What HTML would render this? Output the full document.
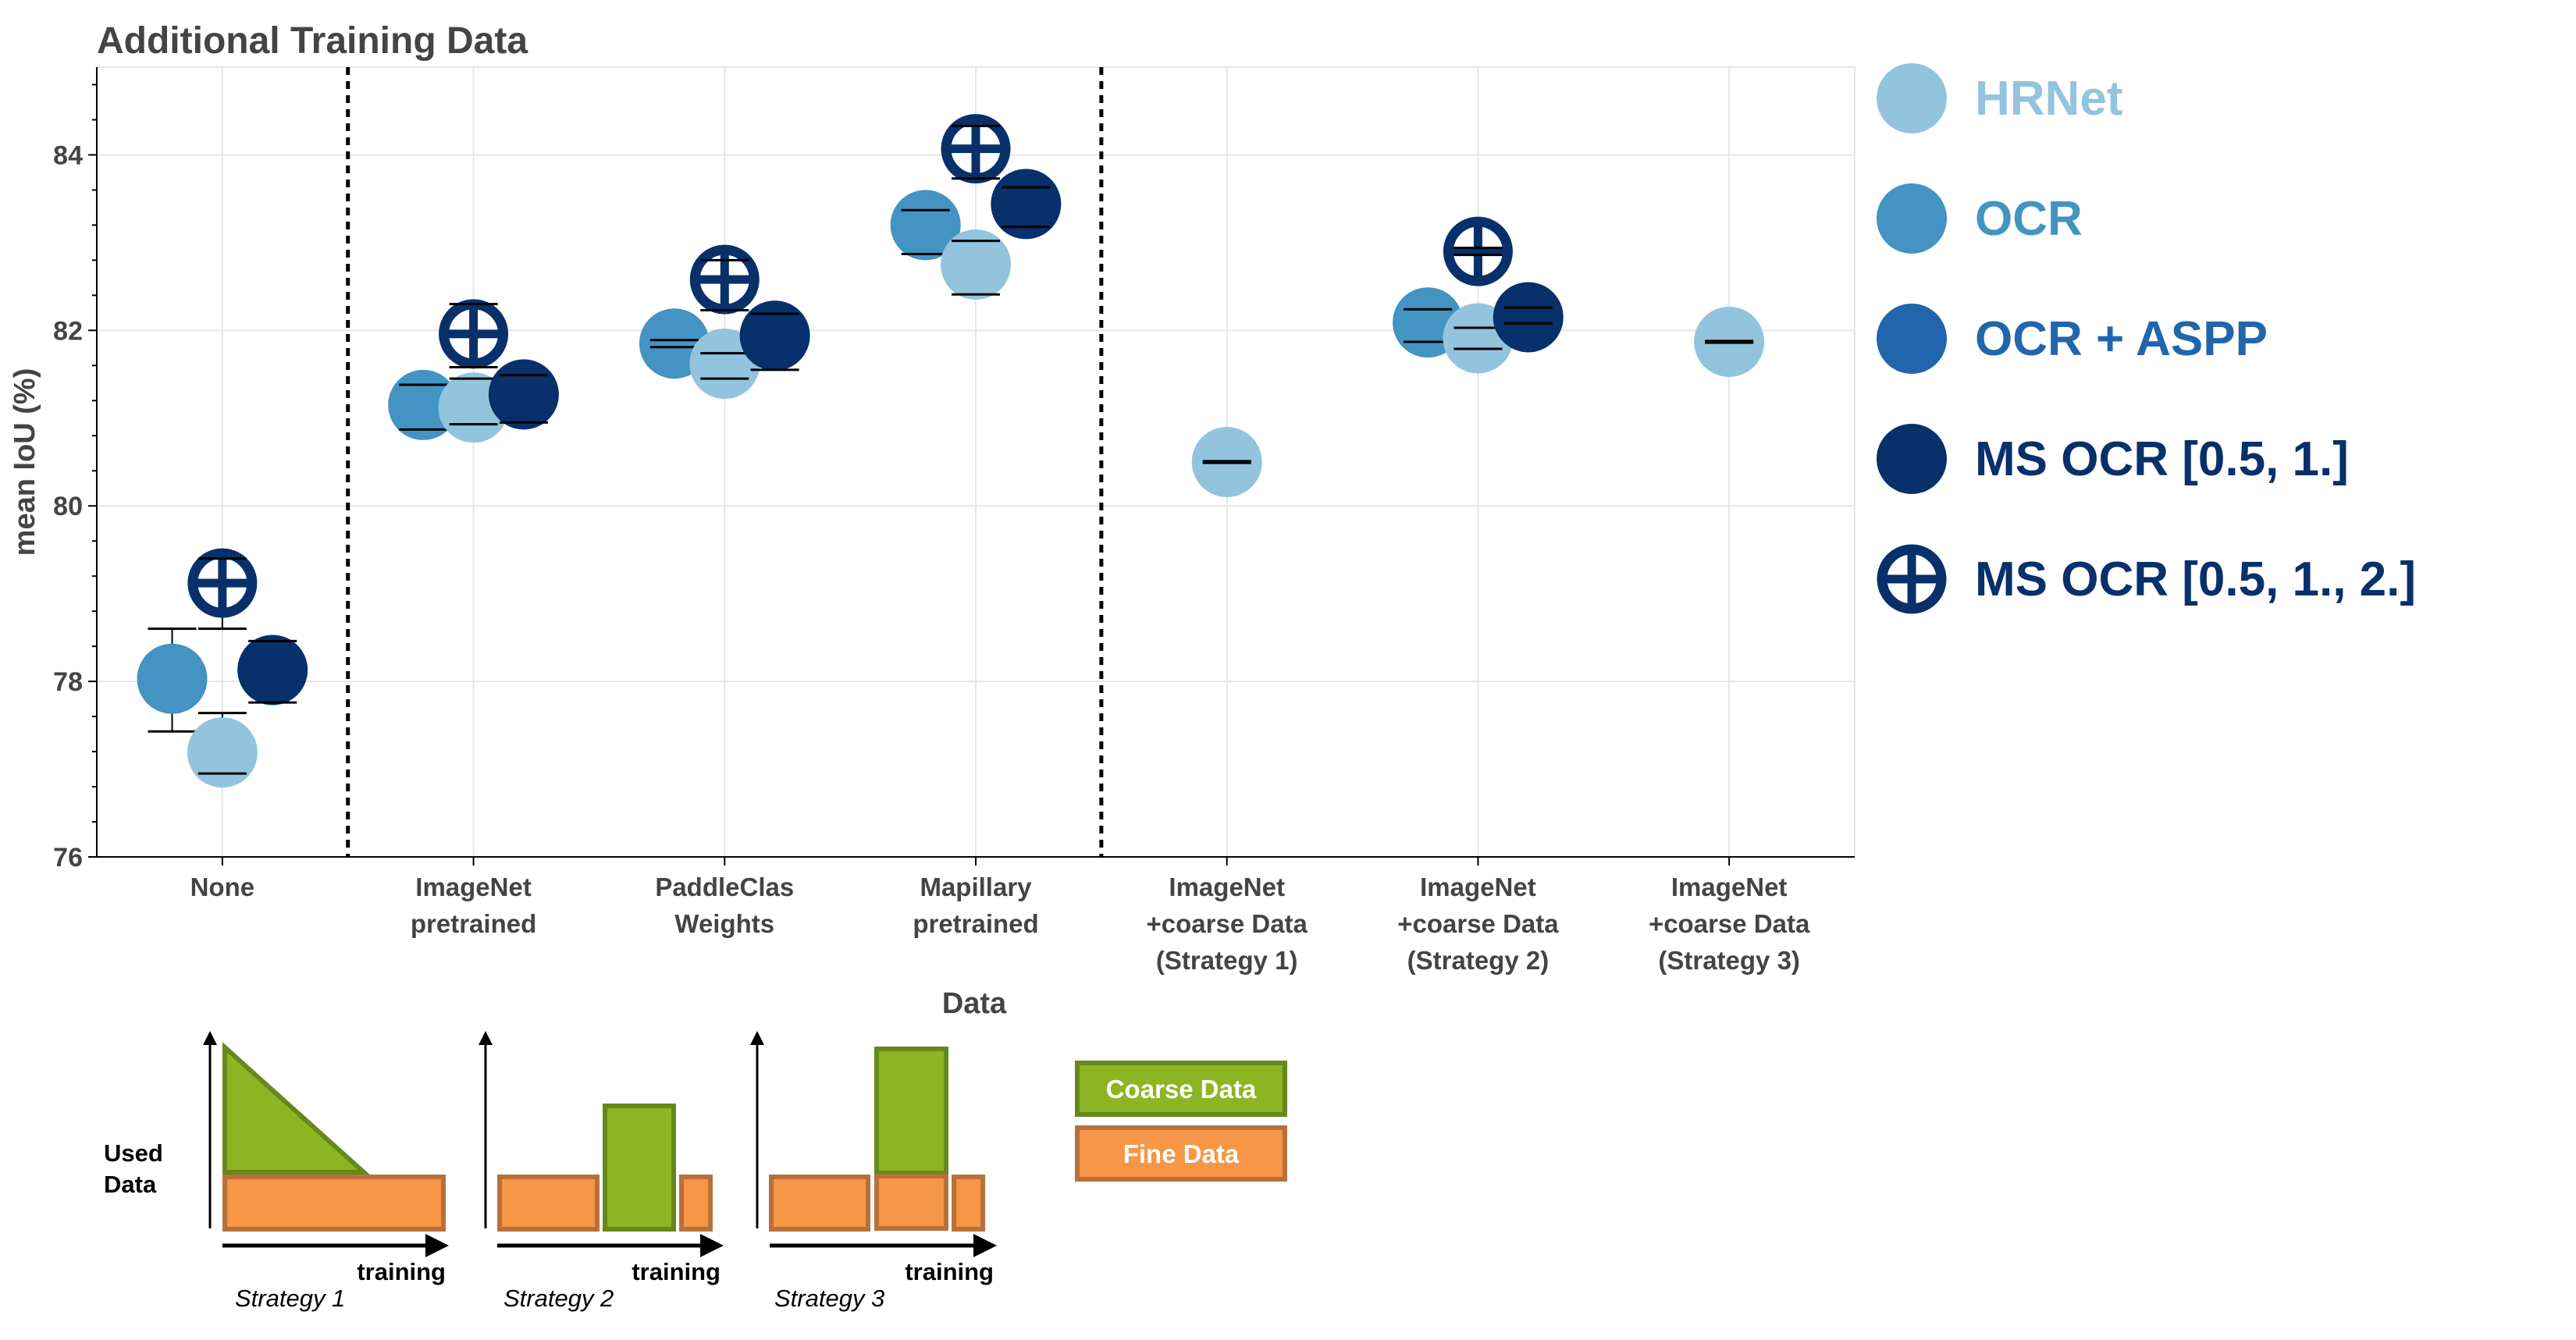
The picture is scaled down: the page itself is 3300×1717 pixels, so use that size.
<!DOCTYPE html>
<html><head><meta charset="utf-8"><style>
html,body{margin:0;padding:0;background:#fff}
svg{display:block}
text{font-family:"Liberation Sans",sans-serif}
</style></head><body>
<svg id="chart" width="3300" height="1717" viewBox="0 0 3300 1717" xmlns="http://www.w3.org/2000/svg">
<text x="124" y="68" font-size="48" font-weight="bold" fill="#444">Additional Training Data</text>
<g id="grid"></g><g id="axes"></g><g id="marks"></g>
<text transform="translate(44,592) rotate(-90)" text-anchor="middle" font-size="38" font-weight="bold" fill="#444">mean IoU (%)</text>
<text x="1262" y="1312" text-anchor="middle" font-size="38" font-weight="bold" fill="#444" transform="translate(-14,-14)">Data</text>
<g id="legend"></g>
<g id="diagram">
  <defs><marker id="ah" markerWidth="6" markerHeight="6" refX="3" refY="3" orient="auto"><path d="M0,0 L6,3 L0,6 z" fill="#000"/></marker></defs>
  <text x="133" y="1488" font-size="31" font-weight="bold">Used</text>
  <text x="133" y="1528" font-size="31" font-weight="bold">Data</text>
  <line x1="269" y1="1574" x2="269" y2="1330" stroke="#000" stroke-width="3" marker-end="url(#ah)"/>
  <polygon points="288,1342 288,1502 466,1502" fill="#8db523" stroke="#66881c" stroke-width="6"/>
  <rect x="288" y="1508" width="280" height="67" fill="#f79646" stroke="#b8703a" stroke-width="6"/>
  <line x1="285" y1="1596" x2="560" y2="1596" stroke="#000" stroke-width="5" marker-end="url(#ah)"/>
  <text x="571" y="1640" text-anchor="end" font-size="31" font-weight="bold">training</text>
  <text x="301" y="1674" font-size="31" font-style="italic">Strategy 1</text>
  <line x1="622" y1="1574" x2="622" y2="1330" stroke="#000" stroke-width="3" marker-end="url(#ah)"/>
  <rect x="640" y="1508" width="125" height="67" fill="#f79646" stroke="#b8703a" stroke-width="6"/>
  <rect x="775" y="1417" width="88" height="158" fill="#8db523" stroke="#66881c" stroke-width="6"/>
  <rect x="873" y="1508" width="37" height="67" fill="#f79646" stroke="#b8703a" stroke-width="6"/>
  <line x1="637" y1="1596" x2="912" y2="1596" stroke="#000" stroke-width="5" marker-end="url(#ah)"/>
  <text x="923" y="1640" text-anchor="end" font-size="31" font-weight="bold">training</text>
  <text x="645" y="1674" font-size="31" font-style="italic">Strategy 2</text>
  <line x1="970" y1="1574" x2="970" y2="1330" stroke="#000" stroke-width="3" marker-end="url(#ah)"/>
  <rect x="988" y="1508" width="124" height="67" fill="#f79646" stroke="#b8703a" stroke-width="6"/>
  <rect x="1123" y="1344" width="89" height="159" fill="#8db523" stroke="#66881c" stroke-width="6"/>
  <rect x="1123" y="1507" width="89" height="67" fill="#f79646" stroke="#b8703a" stroke-width="6"/>
  <rect x="1222" y="1508" width="37" height="67" fill="#f79646" stroke="#b8703a" stroke-width="6"/>
  <line x1="986" y1="1596" x2="1262" y2="1596" stroke="#000" stroke-width="5" marker-end="url(#ah)"/>
  <text x="1273" y="1640" text-anchor="end" font-size="31" font-weight="bold">training</text>
  <text x="992" y="1674" font-size="31" font-style="italic">Strategy 3</text>
  <rect x="1380" y="1362" width="266" height="66" fill="#8db523" stroke="#66881c" stroke-width="6"/>
  <text x="1513" y="1407" text-anchor="middle" font-size="33" font-weight="bold" fill="#fff">Coarse Data</text>
  <rect x="1380" y="1445" width="266" height="66" fill="#f79646" stroke="#b8703a" stroke-width="6"/>
  <text x="1513" y="1490" text-anchor="middle" font-size="33" font-weight="bold" fill="#fff">Fine Data</text>
</g>
</svg>
<script>
const categories = [["None"],["ImageNet","pretrained"],["PaddleClas","Weights"],["Mapillary","pretrained"],["ImageNet","+coarse Data","(Strategy 1)"],["ImageNet","+coarse Data","(Strategy 2)"],["ImageNet","+coarse Data","(Strategy 3)"]];
const yTicks = [76,78,80,82,84];
const seriesNames = ["HRNet","OCR","OCR + ASPP","MS OCR [0.5, 1.]","MS OCR [0.5, 1., 2.]"];
const seriesColors = ["#93c4de","#4393c3","#2166ac","#08306b","#08306b"];
const ocrMean = [78.03,81.15,81.85,83.20,null,82.09,null];
const ocrHi   = [78.60,81.38,81.89,83.37,null,82.24,null];
const ocrLo   = [77.43,80.87,81.81,82.87,null,81.87,null];
const hrMean  = [77.19,81.12,81.62,82.75,80.50,81.91,81.87];
const hrHi    = [77.64,81.45,81.74,83.02,80.51,82.03,81.88];
const hrLo    = [76.95,80.93,81.45,82.41,80.49,81.79,81.86];
const msMean  = [78.13,81.27,81.94,83.44,null,82.15,null];
const msHi    = [78.46,81.49,82.19,83.63,null,82.26,null];
const msLo    = [77.76,80.95,81.55,83.18,null,82.08,null];
const ms3Mean = [79.12,81.96,82.58,84.07,null,82.90,null];
const ms3Hi   = [79.40,82.30,82.80,84.33,null,82.94,null];
const ms3Lo   = [78.60,81.58,82.23,83.73,null,82.86,null];

const NS="http://www.w3.org/2000/svg";
const L=124,R=2376,T=86,B=1098,yMin=76,yMax=85;
const xs=i=>L+(i+0.5)*(R-L)/categories.length;
const ys=v=>B-(v-yMin)/(yMax-yMin)*(B-T);
function mk(tag,attrs,parent){const e=document.createElementNS(NS,tag);for(const k in attrs)e.setAttribute(k,attrs[k]);parent.appendChild(e);return e;}
const grid=document.getElementById('grid'),axes=document.getElementById('axes'),marks=document.getElementById('marks'),legend=document.getElementById('legend');
yTicks.forEach(v=>{const l=mk('line',{x1:L,x2:R,y1:ys(v),y2:ys(v),stroke:'#e6e6e6','stroke-width':2},grid);

});
categories.forEach((c,i)=>{const l=mk('line',{x1:xs(i),x2:xs(i),y1:T,y2:B,stroke:'#e6e6e6','stroke-width':2},grid);

});
const frame=mk('path',{d:`M${L},${T} H${R} V${B}`,fill:'none',stroke:'#e6e6e6','stroke-width':2},grid);


[0.5,3.5].forEach(p=>{const l=mk('line',{x1:xs(p),x2:xs(p),y1:T,y2:B,stroke:'#000','stroke-width':5,'stroke-dasharray':'10,8'},grid);

});
mk('line',{x1:L,x2:L,y1:T,y2:B+1,stroke:'#000','stroke-width':2},axes);
mk('line',{x1:L,x2:R,y1:B,y2:B,stroke:'#000','stroke-width':2},axes);
for(let v=yMin;v<=yMax+1e-6;v+=0.4){const major=Math.abs(v-Math.round(v))<1e-6&&Math.round(v)%2===0;
mk('line',{x1:L,x2:L-(major?11:6),y1:ys(v),y2:ys(v),stroke:'#000','stroke-width':2},axes);}
yTicks.forEach(v=>{const t=mk('text',{x:L-18,y:ys(v)+12,'text-anchor':'end','font-size':34,'font-weight':'bold',fill:'#444'},axes);t.textContent=v;

});
categories.forEach((c,i)=>{mk('line',{x1:xs(i),x2:xs(i),y1:B,y2:B+11,stroke:'#000','stroke-width':2},axes);
c.forEach((s,j)=>{const t=mk('text',{x:xs(i),y:1148+j*47,'text-anchor':'middle','font-size':33,'font-weight':'bold',fill:'#444'},axes);t.textContent=s;

});});
const RAD=45,dx=0.2*(R-L)/categories.length;
const series=[
 {name:'ocr',m:ocrMean,h:ocrHi,l:ocrLo,off:-dx,col:seriesColors[1],ring:false},
 {name:'hrnet',m:hrMean,h:hrHi,l:hrLo,off:0,col:seriesColors[0],ring:false},
 {name:'ms-ocr-2',m:msMean,h:msHi,l:msLo,off:dx,col:seriesColors[3],ring:false},
 {name:'ms-ocr-3',m:ms3Mean,h:ms3Hi,l:ms3Lo,off:0,col:seriesColors[4],ring:true}];
function marker(cx,cy,col,ring,parent){
 if(ring){mk('circle',{cx:cx,cy:cy,r:RAD-7,fill:'#fff',stroke:col,'stroke-width':13},parent);
  mk('line',{x1:cx-RAD+4,x2:cx+RAD-4,y1:cy,y2:cy,stroke:col,'stroke-width':11},parent);
  mk('line',{x1:cx,x2:cx,y1:cy-RAD+4,y2:cy+RAD-4,stroke:col,'stroke-width':11},parent);}
 else mk('circle',{cx:cx,cy:cy,r:RAD,fill:col},parent);}
series.forEach(s=>{s.m.forEach((v,i)=>{if(v===null)return;
 const g=mk('g',{},marks);
 
 
 const cx=xs(i)+s.off;
 mk('line',{x1:cx,x2:cx,y1:ys(s.h[i]),y2:ys(s.l[i]),stroke:'#000','stroke-width':2},g);
 marker(cx,ys(v),s.col,s.ring,g);
 [s.h[i],s.l[i]].forEach(e=>mk('line',{x1:cx-31,x2:cx+31,y1:ys(e),y2:ys(e),stroke:'#000','stroke-width':3},g));});});
seriesNames.forEach((n,k)=>{const g=mk('g',{},legend);
 
 
 const cy=126+k*154;
 marker(2449,cy,seriesColors[k],k===4,g);
 const t=mk('text',{x:2530,y:cy+21,'font-size':62,'font-weight':'bold',fill:seriesColors[k]},g);t.textContent=n;});
</script>
</body></html>
